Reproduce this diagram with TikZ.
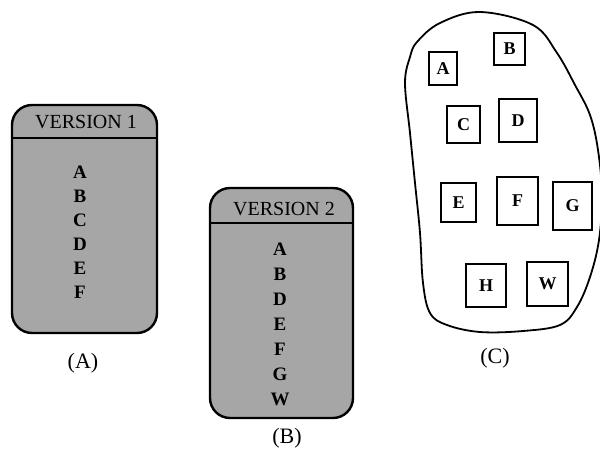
\documentclass[tikz,border=0pt]{standalone}
\usepackage{fontspec}
\setmainfont{Liberation Serif}
\begin{document}
\begin{tikzpicture}[x=1pt,y=-1pt,
  vbox/.style={draw, line width=2.4pt, rounded corners=20pt, fill=gray!70, inner sep=0pt},
  vtitle/.style={font=\fontsize{20}{20}\selectfont, inner sep=0pt},
  vitem/.style={font=\fontsize{19}{19}\selectfont\bfseries, inner sep=0pt},
  cbox/.style={draw, line width=2pt, fill=white, inner sep=0pt, font=\fontsize{18}{18}\selectfont\bfseries},
  caption/.style={font=\fontsize{22}{22}\selectfont, inner sep=0pt}]
\useasboundingbox (0,0) rectangle (600,453);

% ---- Version 1 ----
\node[vbox, minimum width=145pt, minimum height=228pt] (v1) at (84.5,219) {};
\coordinate (v1l) at (12,138);
\coordinate (v1r) at (157,138);
\draw[line width=1.6pt] (v1l) -- (v1r);
\node[vtitle] (v1t) at (86,122) {VERSION 1};
\foreach \t [count=\i from 0] in {A,B,C,D,E,F}
  \node[vitem] (v1i\i) at (80,172+24*\i) {\t};
\node[caption] (capA) at (83,363) {(A)};

% ---- Version 2 ----
\node[vbox, minimum width=143pt, minimum height=230pt] (v2) at (281.5,303) {};
\coordinate (v2l) at (210,223);
\coordinate (v2r) at (353,223);
\draw[line width=1.6pt] (v2l) -- (v2r);
\node[vtitle] (v2t) at (284,209) {VERSION 2};
\foreach \t [count=\i from 0] in {A,B,D,E,F,G,W}
  \node[vitem] (v2i\i) at (280,249+25*\i) {\t};
\node[caption] (capB) at (287,438) {(B)};

% ---- Configuration (C) ----
\draw[line width=1.8pt] plot[smooth cycle, tension=0.6] coordinates {
  (417,42) (440,23) (480,12) (533,25) (557,53) (575,85) (590,115) (598,150)
  (602,195) (599,240) (590,277) (577,307) (560,325) (523,331) (480,332)
  (447,325) (430,313) (423,283) (420,233) (415,183) (410,133) (405,83) (410,57)};

\node[cbox, minimum width=28pt, minimum height=33pt] (cA) at (443,68.5) {A};
\node[cbox, minimum width=31pt, minimum height=32pt] (cB) at (509.5,49) {B};
\node[cbox, minimum width=33pt, minimum height=37pt] (cC) at (463.5,124.5) {C};
\node[cbox, minimum width=38pt, minimum height=43pt] (cD) at (518,120.5) {D};
\node[cbox, minimum width=35pt, minimum height=39pt] (cE) at (458.5,202.5) {E};
\node[cbox, minimum width=41pt, minimum height=48pt] (cF) at (517.5,201) {F};
\node[cbox, minimum width=39pt, minimum height=48pt] (cG) at (572.5,206) {G};
\node[cbox, minimum width=40pt, minimum height=43pt] (cH) at (486,285.5) {H};
\node[cbox, minimum width=41pt, minimum height=44pt] (cW) at (547.5,284) {W};

\node[caption] (capC) at (495,358) {(C)};
\end{tikzpicture}
\end{document}
